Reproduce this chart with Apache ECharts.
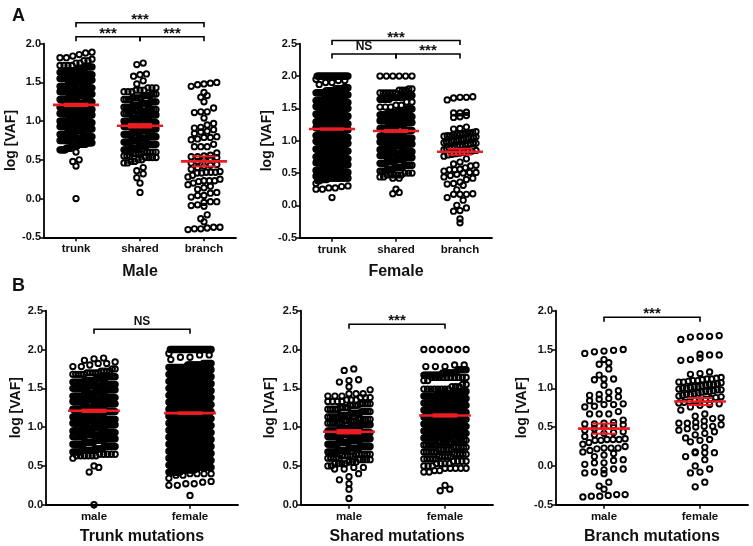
<!DOCTYPE html>
<html><head><meta charset="utf-8">
<script src="https://cdn.jsdelivr.net/npm/echarts@6/dist/echarts.min.js"></script>
<style>html,body{margin:0;padding:0;background:#fff}#c{width:753px;height:546px}</style>
</head><body><div id="c"></div>
<script>
// ---------- categories / labels ----------
const groupsA = ['trunk', 'shared', 'branch'];
const groupsB = ['male', 'female'];
const panelTitles = ['Male', 'Female', 'Trunk mutations', 'Shared mutations', 'Branch mutations'];
const yTitle = 'log [VAF]';

// ---------- data (log VAF), dense groups as value levels + counts ----------
const maleTrunkLevels = [0.00,0.42,0.48,0.50,0.60,0.63,0.65,0.68,0.70,0.72,0.75,0.78,0.80,0.83,0.85,0.88,0.90,0.93,0.95,0.98,1.00,1.03,1.05,1.08,1.10,1.13,1.15,1.18,1.20,1.23,1.25,1.28,1.30,1.33,1.35,1.38,1.40,1.43,1.45,1.48,1.50,1.53,1.55,1.58,1.60,1.63,1.65,1.68,1.70,1.72,1.75,1.78,1.80,1.82,1.84,1.86,1.88,1.89];
const maleTrunkCounts = [1,1,1,1,1,6,5,6,8,6,8,9,8,8,9,8,10,9,10,10,12,10,11,11,11,11,12,11,12,11,11,11,11,10,10,10,10,9,9,9,9,8,8,7,7,6,6,5,5,4,2,2,1,2,1,1,1,1];

const maleSharedLevels = [0.08,0.20,0.27,0.32,0.36,0.40,0.46,0.48,0.50,0.53,0.55,0.58,0.60,0.63,0.65,0.68,0.70,0.73,0.75,0.78,0.80,0.83,0.85,0.88,0.90,0.93,0.95,0.98,1.00,1.03,1.05,1.08,1.10,1.13,1.15,1.18,1.20,1.23,1.25,1.28,1.30,1.33,1.35,1.38,1.40,1.43,1.48,1.52,1.58,1.60,1.61,1.73,1.75];
const maleSharedCounts = [1,1,1,1,1,1,2,2,2,4,3,4,5,5,6,6,7,7,7,8,8,8,8,8,8,8,8,7,7,7,7,6,6,6,5,5,5,5,4,4,5,4,3,3,3,3,1,1,1,1,1,1,1];

const maleBranch = [1.50,1.49,1.48,1.47,1.45,1.37,1.33,1.31,1.25,1.17,1.12,1.12,1.11,1.04,
  0.97,0.95,0.92,0.91,0.89,0.87,0.86,0.84,0.80,0.79,0.79,0.77,0.76,0.70,0.67,0.67,0.67,
  0.59,0.56,0.55,0.54,0.54,0.53,0.52,0.50,0.48,0.46,0.44,0.43,0.42,0.40,0.38,
  0.35,0.34,0.34,0.34,0.33,0.33,0.30,0.28,0.25,0.23,0.23,0.23,0.22,0.20,0.18,0.16,0.14,0.12,
  0.08,0.07,0.04,0.04,0.02,-0.04,-0.04,-0.05,-0.08,-0.09,-0.10,-0.21,-0.26,-0.30,
  -0.37,-0.37,-0.38,-0.39,-0.39,-0.40];

const femaleTrunkLevels = [0.12,0.25,0.27,0.29,0.30,0.34,0.38,0.40,0.42,0.45,0.48,0.51,0.54,0.57,0.60,0.63,0.66,0.69,0.72,0.75,0.78,0.81,0.84,0.87,0.90,0.93,0.96,0.99,1.02,1.05,1.08,1.11,1.14,1.17,1.20,1.23,1.26,1.29,1.32,1.35,1.38,1.41,1.44,1.47,1.50,1.53,1.56,1.59,1.62,1.65,1.68,1.71,1.74,1.77,1.80,1.82,1.87,1.90,1.93,1.95,2.00];
const femaleTrunkCounts = [1,2,2,1,1,1,2,4,12,14,16,16,16,16,18,16,16,18,16,18,18,18,18,18,20,18,20,20,20,20,20,20,20,20,20,20,20,18,18,18,18,18,18,18,18,16,16,16,16,16,16,14,12,12,10,6,1,2,2,1,30];

const femaleSharedLevels = [0.18,0.20,0.25,0.42,0.44,0.47,0.50,0.53,0.56,0.59,0.62,0.65,0.68,0.71,0.74,0.77,0.80,0.83,0.86,0.89,0.92,0.95,0.98,1.01,1.04,1.07,1.10,1.13,1.16,1.19,1.22,1.25,1.28,1.31,1.34,1.37,1.40,1.43,1.46,1.49,1.52,1.55,1.60,1.64,1.67,1.70,1.74,1.78,1.80,2.00];
const femaleSharedCounts = [1,1,1,2,2,5,3,4,4,5,5,5,6,6,6,7,7,7,8,8,10,10,10,10,10,10,10,10,10,10,10,10,10,10,10,10,10,12,10,8,3,2,2,10,12,10,6,3,2,6];

const femaleBranch = [1.68,1.67,1.67,1.66,1.63,1.44,1.43,1.43,1.39,1.37,1.36,1.21,1.19,1.18,
  1.14,1.13,1.12,1.12,1.11,1.10,1.10,1.09,1.08,1.08,1.07,1.06,1.05,1.05,1.04,1.03,1.02,1.02,1.01,1.00,1.00,
  0.99,0.98,0.98,0.97,0.96,0.96,0.95,0.94,0.93,0.92,0.92,0.91,0.90,0.89,0.88,0.87,0.86,0.85,0.84,0.83,0.82,0.81,0.80,0.79,0.78,
  0.76,0.72,0.67,0.64,0.62,0.61,0.58,0.56,0.55,0.55,0.53,0.51,0.51,0.50,0.48,0.46,0.44,0.42,0.40,
  0.36,0.34,0.33,0.31,0.24,0.18,0.17,0.17,0.17,0.12,0.08,0.00,-0.04,-0.08,-0.09,-0.21,-0.27];

// mean and SEM: [trunk, shared, branch]
const maleMean = [1.21, 0.94, 0.48];
const maleSEM = [0.015, 0.022, 0.065];
const femaleMean = [1.18, 1.15, 0.83];
const femaleSEM = [0.010, 0.015, 0.045];

// significance brackets: [fromGroup, toGroup, yValue], labels separately
const bracketsMale = [[0, 2, 2.27], [0, 1, 2.09], [1, 2, 2.09]];
const bracketsMaleLabels = ['***', '***', '***'];
const bracketsFemale = [[0, 2, 2.55], [0, 1, 2.34], [1, 2, 2.34]];
const bracketsFemaleLabels = ['***', 'NS', '***'];
const bracketsTrunk = [[0, 1, 2.26]]; const bracketsTrunkLabels = ['NS'];
const bracketsShared = [[0, 1, 2.325]]; const bracketsSharedLabels = ['***'];
const bracketsBranch = [[0, 1, 1.915]]; const bracketsBranchLabels = ['***'];

// ---------- build ----------
function expand(levels, counts) {
  const out = [];
  levels.forEach((v, i) => { for (let k = 0; k < (counts[i] || 0); k++) out.push(v); });
  return out;
}
const maleTrunk = expand(maleTrunkLevels, maleTrunkCounts);
const maleShared = expand(maleSharedLevels, maleSharedCounts);
const femaleTrunk = expand(femaleTrunkLevels, femaleTrunkCounts);
const femaleShared = expand(femaleSharedLevels, femaleSharedCounts);

const FONT = "'Liberation Sans', Arial, sans-serif";
const RED = '#ee1c24';
const INK = '#111';

const panels = [
  { left: 44, top: 43.7, width: 192, height: 193.6, ymin: -0.5, ymax: 2.0, cats: groupsA,
    sets: [maleTrunk, maleShared, maleBranch], mean: maleMean, sem: maleSEM,
    br: bracketsMale, brl: bracketsMaleLabels, nameGap: 21, titleGap: 26, hw: 0.36, cap: 0.19, step: 0.1, maxW: 0.25 },
  { left: 300, top: 43.7, width: 192, height: 194, ymin: -0.5, ymax: 2.5, cats: groupsA,
    sets: [femaleTrunk, femaleShared, femaleBranch], mean: femaleMean, sem: femaleSEM,
    br: bracketsFemale, brl: bracketsFemaleLabels, nameGap: 26, titleGap: 26, hw: 0.36, cap: 0.19, step: 0.1, maxW: 0.25 },
  { left: 46, top: 310.7, width: 192, height: 194, ymin: 0, ymax: 2.5, cats: groupsB,
    sets: [maleTrunk, femaleTrunk], mean: [maleMean[0], femaleMean[0]], sem: [maleSEM[0], femaleSEM[0]],
    br: bracketsTrunk, brl: bracketsTrunkLabels, nameGap: 23, titleGap: 24, hw: 0.27, cap: 0.13, step: 0.1, maxW: 0.22 },
  { left: 301, top: 310.7, width: 192, height: 194, ymin: 0, ymax: 2.5, cats: groupsB,
    sets: [maleShared, femaleShared], mean: [maleMean[1], femaleMean[1]], sem: [maleSEM[1], femaleSEM[1]],
    br: bracketsShared, brl: bracketsSharedLabels, nameGap: 24, titleGap: 24, hw: 0.27, cap: 0.13, step: 0.1, maxW: 0.22 },
  { left: 556, top: 310.7, width: 192, height: 194, ymin: -0.5, ymax: 2.0, cats: groupsB,
    sets: [maleBranch, femaleBranch], mean: [maleMean[2], femaleMean[2]], sem: [maleSEM[2], femaleSEM[2]],
    br: bracketsBranch, brl: bracketsBranchLabels, nameGap: 27, titleGap: 24, hw: 0.27, cap: 0.13, step: 0.1, maxW: 0.22 }
];

// Prism-like column scatter layout: points in the same row (one symbol high) are spread sideways
function swarm(values, cat, P) {
  const ppu = P.height / (P.ymax - P.ymin);
  const binPx = 7;
  const sorted = values.slice().sort((a, b) => a - b);
  const bins = new Map();
  sorted.forEach(v => {
    const b = Math.round((v - P.ymin) * ppu / binPx);
    if (!bins.has(b)) bins.set(b, []);
    bins.get(b).push(v);
  });
  const pts = [];
  bins.forEach(arr => {
    const m = arr.length;
    const needed = (m - 1) * P.step;
    arr.forEach((v, j) => {
      let off;
      if (m === 1) off = 0;
      else if (needed <= 2 * P.maxW) off = (j - (m - 1) / 2) * P.step;
      else off = -P.maxW + j * (2 * P.maxW / (m - 1));
      pts.push([cat + off, v]);
    });
  });
  return pts;
}

const grid = [], xAxis = [], yAxis = [], series = [];
panels.forEach((P, k) => {
  grid.push({ left: P.left, top: P.top, width: P.width, height: P.height, containLabel: false });
  const n = P.cats.length;
  const idx = P.cats.map((_, i) => i);
  xAxis.push({
    gridIndex: k, type: 'value', min: -0.5, max: n - 0.5,
    name: panelTitles[k], nameLocation: 'middle', nameGap: P.titleGap,
    nameTextStyle: { fontFamily: FONT, fontWeight: 'bold', fontSize: 16, color: INK },
    axisLine: { onZero: false, lineStyle: { color: '#000', width: 1.8 } },
    axisTick: { show: true, customValues: idx, length: 4, lineStyle: { color: '#000', width: 1.5 } },
    axisLabel: { customValues: idx, formatter: v => P.cats[Math.round(v)] || '', margin: 6,
      fontFamily: FONT, fontWeight: 'bold', fontSize: 11.5, color: INK },
    splitLine: { show: false }
  });
  yAxis.push({
    gridIndex: k, type: 'value', min: P.ymin, max: P.ymax, interval: 0.5,
    name: yTitle, nameLocation: 'middle', nameGap: P.nameGap,
    nameTextStyle: { fontFamily: FONT, fontWeight: 'bold', fontSize: 14, color: INK },
    axisLine: { show: true, onZero: false, lineStyle: { color: '#000', width: 1.8 } },
    axisTick: { show: true, length: 4, lineStyle: { color: '#000', width: 1.5 } },
    axisLabel: { formatter: v => v.toFixed(1), margin: 3, fontFamily: FONT, fontWeight: 'bold', fontSize: 11, color: INK },
    splitLine: { show: false }
  });
  P.sets.forEach((vals, i) => {
    series.push({
      type: 'scatter', xAxisIndex: k, yAxisIndex: k, data: swarm(vals, i, P),
      symbol: 'circle', symbolSize: 5.4, large: false, progressive: 0, silent: true,
      itemStyle: { color: 'rgba(0,0,0,0)', borderColor: '#000', borderWidth: 1.9, opacity: 1 },
      z: 2
    });
  });
  // mean ± SEM
  series.push({
    type: 'custom', xAxisIndex: k, yAxisIndex: k, clip: false, silent: true, z: 5,
    data: P.mean.map((m, i) => [i, m, P.sem[i]]), encode: { x: 0, y: 1 },
    renderItem: (params, api) => {
      const i = api.value(0), m = api.value(1), e = api.value(2);
      const a = api.coord([i - P.hw, m]), b = api.coord([i + P.hw, m]);
      const t = api.coord([i, m + e]), u = api.coord([i, m - e]);
      const c1 = api.coord([i - P.cap, m]), c2 = api.coord([i + P.cap, m]);
      const st = w => ({ stroke: RED, lineWidth: w });
      return { type: 'group', children: [
        { type: 'line', shape: { x1: a[0], y1: a[1], x2: b[0], y2: b[1] }, style: st(2.6) },
        { type: 'line', shape: { x1: t[0], y1: t[1], x2: u[0], y2: u[1] }, style: st(2) },
        { type: 'line', shape: { x1: c1[0], y1: t[1], x2: c2[0], y2: t[1] }, style: st(2) },
        { type: 'line', shape: { x1: c1[0], y1: u[1], x2: c2[0], y2: u[1] }, style: st(2) }
      ] };
    }
  });
  // significance brackets
  series.push({
    type: 'custom', xAxisIndex: k, yAxisIndex: k, clip: false, silent: true, z: 6,
    data: P.br, encode: { x: [0, 1], y: 2 },
    renderItem: (params, api) => {
      const x0 = api.value(0), x1 = api.value(1), y = api.value(2);
      const p = api.coord([x0, y]), q = api.coord([x1, y]);
      const lab = P.brl[params.dataIndex];
      const isStar = lab.indexOf('*') >= 0;
      return { type: 'group', children: [
        { type: 'polyline', shape: { points: [[p[0], p[1] + 4.5], [p[0], p[1]], [q[0], q[1]], [q[0], q[1] + 4.5]] },
          style: { stroke: '#000', lineWidth: 1.6, fill: null } },
        { type: 'text', x: (p[0] + q[0]) / 2, y: p[1] - (isStar ? 3 : 7.5),
          style: { text: lab, fontFamily: FONT, fontWeight: 'bold', fontSize: isStar ? 15 : 12,
            fill: INK, align: 'center', verticalAlign: 'middle' } }
      ] };
    }
  });
});

const chart = echarts.init(document.getElementById('c'), null, { renderer: 'canvas' });
chart.setOption({
  animation: false,
  backgroundColor: '#fff',
  grid, xAxis, yAxis, series,
  graphic: [
    { type: 'text', left: 12, top: 7, style: { text: 'A', fontFamily: FONT, fontWeight: 'bold', fontSize: 18, fill: INK } },
    { type: 'text', left: 12, top: 277, style: { text: 'B', fontFamily: FONT, fontWeight: 'bold', fontSize: 18, fill: INK } }
  ]
});
</script>
</body></html>
